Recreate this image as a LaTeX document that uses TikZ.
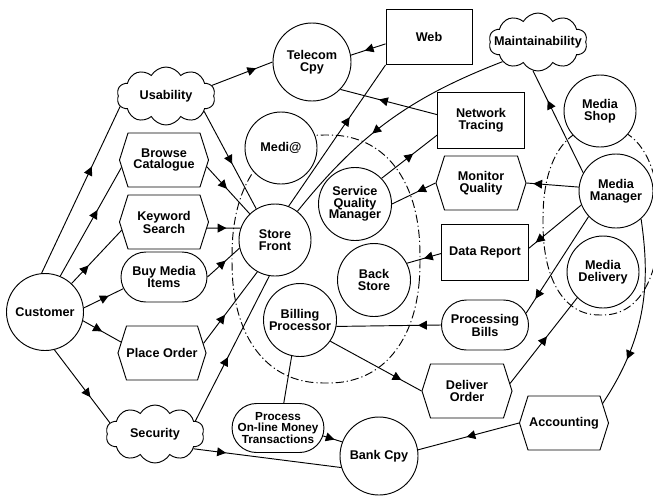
\documentclass[tikz,border=0pt]{standalone}
\usepackage{fontspec}
\setmainfont{Liberation Sans}
\usetikzlibrary{shapes.geometric,shapes.symbols,shapes.misc,arrows.meta,decorations.markings}

\begin{document}
\begin{tikzpicture}[x=0.03cm, y=-0.03cm, line width=0.8pt,
	font=\bfseries\fontsize{10.8pt}{10pt}\selectfont,
	actor/.style={circle, draw, fill=white, minimum size=#1, inner sep=0pt, align=center},
	actor/.default=2.16cm,
	task/.style={signal, signal to=east and west, signal pointer angle=145, draw, fill=white, minimum width=2.67cm, minimum height=1.62cm, inner sep=0pt, align=center},
	resource/.style={rectangle, draw, fill=white, minimum width=2.61cm, minimum height=1.68cm, inner sep=0pt, align=center},
	goal/.style={rounded rectangle, draw, fill=white, minimum width=2.6cm, minimum height=1.5cm, inner sep=0pt, align=center},
	softgoal/.style={cloud, cloud puffs=10, cloud puff arc=120, aspect=1.7, draw, fill=white, minimum width=2.95cm, minimum height=1.74cm, inner sep=0pt},
	boundary/.style={dash pattern=on 7pt off 2.5pt on 1pt off 2.5pt},
	dep/.style={postaction={decorate}, decoration={markings, mark=at position #1 with {\arrow{Triangle[length=7.5pt,width=7.5pt]}}}}]
	\useasboundingbox (0,0) rectangle (653,495);
	\draw[boundary] plot[domain=2.5:357.5, samples=72, smooth cycle] ({326+94*sign(cos(\x))*abs(cos(\x))^0.87}, {259+124*sign(sin(\x))*abs(sin(\x))^0.87});
	\draw[boundary] plot[domain=2.5:357.5, samples=72, smooth cycle] ({601+58*sign(cos(\x))*abs(cos(\x))^0.87}, {221+94*sign(sin(\x))*abs(sin(\x))^0.87});
	\node[actor=2.31cm] (cust) at (45,312) {Customer};
	\node[softgoal] (usab) at (166,96) {\makebox[0pt]{Usability}};
	\node[task] (brow) at (164,160) {Browse\\Catalogue};
	\node[task] (keyw) at (164,222) {Keyword\\Search};
	\node[goal, minimum width=2.58cm] (buy) at (164,277) {Buy Media\\Items};
	\node[task, minimum width=2.64cm] (place) at (162,353) {Place Order};
	\node[softgoal] (secu) at (155,434) {\makebox[0pt]{Security}};
	\node[actor=2.34cm] (tele) at (312,62) {Telecom\\Cpy};
	\node[resource, minimum width=2.58cm, minimum height=1.65cm] (web) at (429,37) {Web};
	\node[softgoal] (main) at (538,42) {\makebox[0pt]{Maintainability}};
	\node[actor] (medi) at (281,148) {Medi@};
	\node[resource] (netw) at (481,120) {Network\\Tracing};
	\node[actor] (mshop) at (600,111) {Media\\Shop};
	\node[task, minimum width=2.7cm] (monq) at (481,183) {Monitor\\Quality};
	\node[actor=2.19cm] (sqm) at (355,204) {Service\\Quality\\Manager};
	\node[actor=2.22cm] (mman) at (616,191) {Media\\Manager};
	\node[actor] (store) at (275,240) {Store\\Front};
	\node[resource] (data) at (485,252) {Data Report};
	\node[actor=2.19cm] (back) at (374,280) {Back\\Store};
	\node[actor] (mdel) at (603,272) {Media\\Delivery};
	\node[actor=2.19cm] (bill) at (300,320) {Billing\\Processor};
	\node[goal, minimum width=2.61cm] (pbill) at (485,325) {Processing\\Bills};
	\node[task, minimum width=2.7cm] (deliv) at (467,391) {Deliver\\Order};
	\node[task] (acct) at (564,423) {Accounting};
	\node[actor=2.34cm] (bank) at (379,456) {Bank Cpy};
	\node[goal, minimum width=2.64cm, minimum height=1.47cm, font=\bfseries\fontsize{10pt}{9.8pt}\selectfont] (pomt) at (278,428) {Process\\On-line Money\\Transactions};
	\draw[dep=0.64] (cust.95) -- (usab.193);
	\draw[dep=0.61] (cust.67) -- (brow.190);
	\draw[dep=0.34] (cust.47) -- (keyw.191);
	\draw[dep=0.63] (cust.6) -- (buy.196);
	\draw[dep=0.5] (cust.-13) -- (place.165);
	\draw[dep=0.65] (cust.-76) -- (secu.166);
	\draw[dep=0.73] (usab.13) -- (tele.180);
	\draw[dep=0.54] (usab.-22) -- (store.121);
	\draw[dep=0.47] (brow.-9) -- (store.134);
	\draw[dep=0.58] (keyw.-8) -- (store.161);
	\draw[dep=0.57] (buy.east) -- (store.193);
	\draw[dep=0.4] (place.13) -- (store.241);
	\draw[dep=0.44] (secu.18) -- (store.261);
	\draw[dep=0.22] (secu.-21) -- (bank.197);
	\draw[dep=0.6] (pomt.-10) -- (bank.159);
	\draw (bill.257) -- (pomt.77);
	\draw[dep=0.6] (web.189) -- (tele.10);
	\draw[dep=0.63] (store.68) -- (web.south west);
	\draw[dep=0.6] (netw.173) -- (tele.-44);
	\draw[dep=0.58] (main.209) to[bend right=15] (store.52);
	\draw[dep=0.57] (sqm.44) -- (netw.199);
	\draw[dep=0.42] (monq.west) -- (sqm.east);
	\draw[dep=0.71] (mman.151) -- (main.260);
	\draw[dep=0.87] (mman.174) -- (monq.east);
	\draw[dep=0.87] (mman.202) -- (data.5);
	\draw[dep=0.5] (data.182) -- (back.27);
	\draw[dep=0.85] (mman.223) -- (pbill.16);
	\draw[dep=0.22] (pbill.west) -- (bill.350);
	\draw[dep=0.78] (bill.325) -- (deliv.west);
	\draw[dep=0.55] (deliv.10) -- (mdel.225);
	\draw[dep=0.74] (mman.312) .. controls (650,280) and (648,335) .. (acct.27);
	\draw[dep=0.52] (acct.west) -- (bank.9);
\end{tikzpicture}
\end{document}
